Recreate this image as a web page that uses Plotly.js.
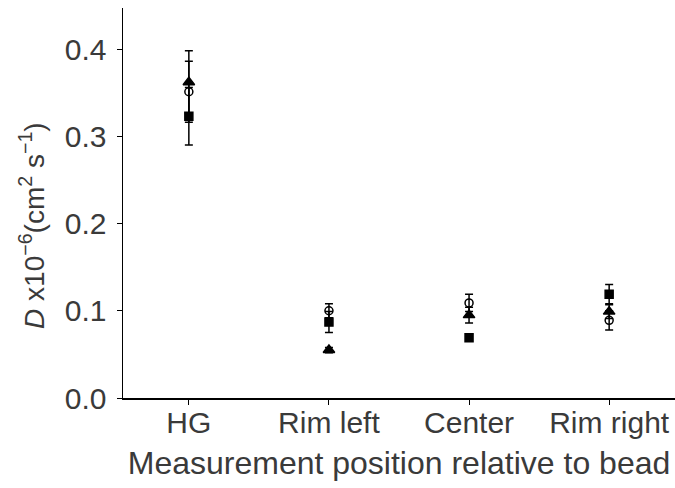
<!DOCTYPE html>
<html>
<head>
<meta charset="utf-8">
<script src="https://cdn.plot.ly/plotly-3.0.1.min.js"></script>
<style>html,body{margin:0;padding:0;background:#fff;}#chart{width:675px;height:488px;}</style>
</head>
<body>
<div id="chart"></div>
<script>
const categories = ["HG", "Rim left", "Center", "Rim right"];
const squareVals = [0.323, 0.087, 0.069, 0.119];
const squareErr  = [0.033, 0.012, 0.004, 0.011];
const circleVals = [0.351, 0.100, 0.109, 0.089];
const circleErr  = [0.035, 0.008, 0.010, 0.011];
const triVals    = [0.362, 0.055, 0.095, 0.099];
const triErr     = [0.036, 0.003, 0.009, 0.008];
const yTicks = [0, 0.1, 0.2, 0.3, 0.4];
const yTitle = '<i>D</i> x10<sup>−6</sup>(cm<sup>2</sup> s<sup>−1</sup>)';
const xTitle = 'Measurement position relative to bead';

function series(vals, errs, symbol, size, name) {
  return {
    x: categories, y: vals, type: 'scatter', mode: 'markers', name: name,
    marker: {symbol: symbol, size: size, color: 'black', line: {color: 'black', width: 1.5}},
    error_y: {type: 'data', array: errs, visible: true, color: 'black', thickness: 1.5, width: 4}
  };
}
const data = [
  series(squareVals, squareErr, 'square', 8, 'square'),
  series(circleVals, circleErr, 'circle-open', 8, 'circle'),
  series(triVals, triErr, 'triangle-up', 10, 'triangle')
];
const layout = {
  width: 675, height: 488,
  margin: {l: 123, r: 0, t: 8, b: 90},
  paper_bgcolor: '#fff', plot_bgcolor: '#fff',
  showlegend: false,
  font: {family: 'Liberation Sans, Arial, sans-serif', color: '#333'},
  xaxis: {
    type: 'category', range: [-0.47, 3.47],
    showline: true, linecolor: 'black', linewidth: 1.5, showgrid: false, zeroline: false,
    ticks: 'outside', ticklen: 5, tickcolor: 'black', tickwidth: 1,
    ticklabelstandoff: -8,
    tickfont: {size: 30, color: '#3a3a3a'},
    title: {text: xTitle, font: {size: 32, color: '#3a3a3a'}, standoff: 14}
  },
  yaxis: {
    range: [0, 0.447],
    tickvals: yTicks, tickformat: '.1f',
    showline: true, linecolor: 'black', linewidth: 1.5, showgrid: false, zeroline: false,
    ticks: 'outside', ticklen: 5, tickcolor: 'black', tickwidth: 1,
    ticklabelstandoff: 4,
    tickfont: {size: 30, color: '#3a3a3a'}
  },
  annotations: [{
    text: yTitle, xref: 'paper', yref: 'paper',
    x: -0.165, y: 0.4436, xanchor: 'center', yanchor: 'middle',
    textangle: -90, showarrow: false,
    font: {size: 28, color: '#3a3a3a'}
  }]
};
Plotly.newPlot('chart', data, layout, {displayModeBar: false, staticPlot: true});
</script>
</body>
</html>
